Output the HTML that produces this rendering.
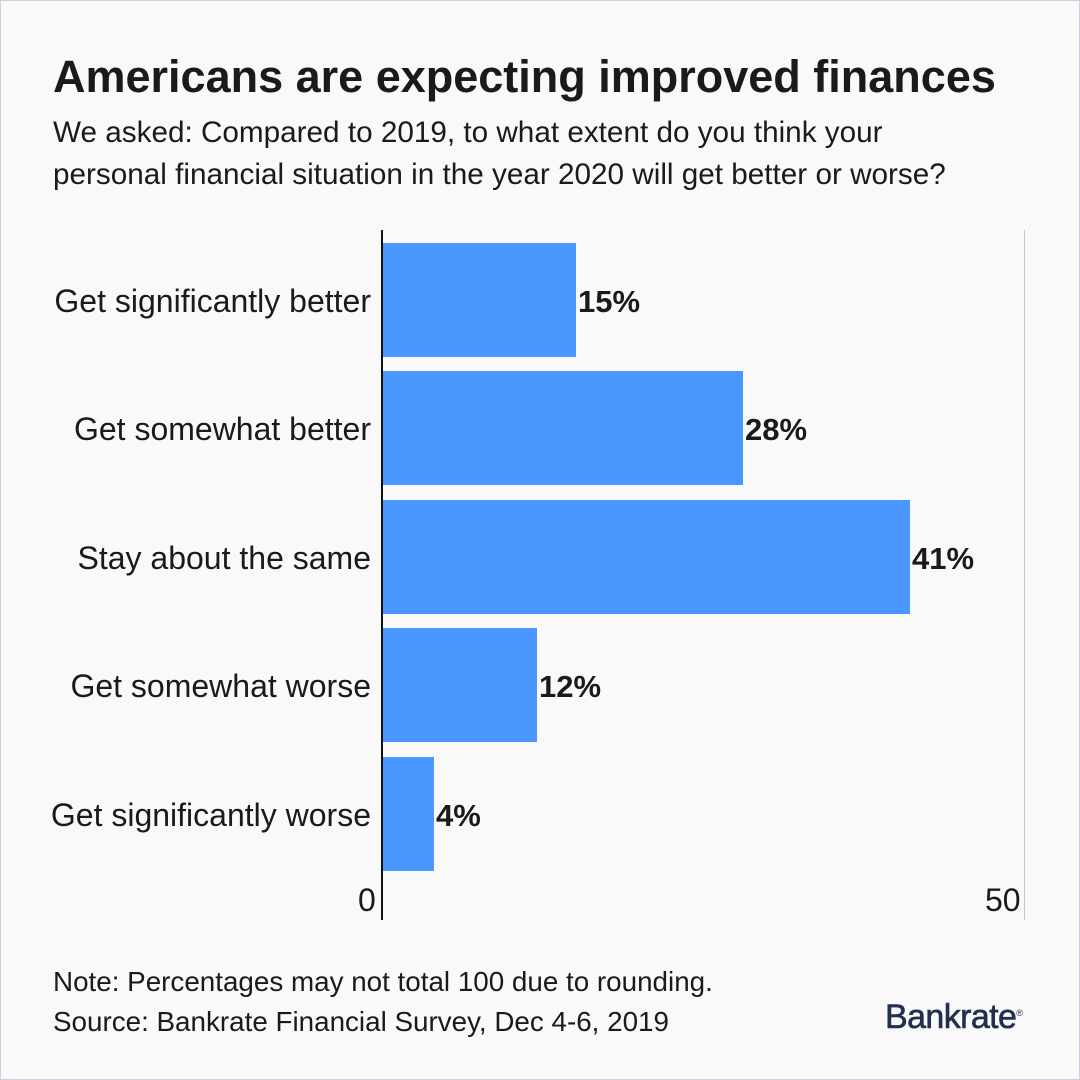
<!DOCTYPE html>
<html><head><meta charset="utf-8"><style>
body{margin:0;}
.page{position:relative;width:1078px;height:1078px;background:#f9f9f9;border:1px solid #cfcfdc;font-family:"Liberation Sans",sans-serif;color:#1a1a1a;overflow:hidden;}
.t{position:absolute;white-space:nowrap;}
.bar{position:absolute;left:382px;background:#4a98ff;height:114px;}
.lab{position:absolute;right:708px;font-size:32px;white-space:nowrap;}
.val{position:absolute;font-size:31px;font-weight:bold;}
</style></head><body><div class="page">
<div class="t" style="left:52px;top:50px;font-size:45px;font-weight:bold;">Americans are expecting improved finances</div>
<div class="t" style="left:52px;top:111px;font-size:29.7px;line-height:42px;">We asked: Compared to 2019, to what extent do you think your<br>personal financial situation in the year 2020 will get better or worse?</div>
<div style="position:absolute;left:1023px;top:229px;width:1px;height:690px;background:#c8c8d4"></div>
<div class="bar" style="top:242px;width:193px"></div>
<div class="bar" style="top:370px;width:360px"></div>
<div class="bar" style="top:499px;width:527px"></div>
<div class="bar" style="top:627px;width:154px"></div>
<div class="bar" style="top:756px;width:51px"></div>
<div style="position:absolute;left:380px;top:229px;width:2px;height:690px;background:#111"></div>
<div class="lab" style="top:282px">Get significantly better</div>
<div class="lab" style="top:410px">Get somewhat better</div>
<div class="lab" style="top:539px">Stay about the same</div>
<div class="lab" style="top:667px">Get somewhat worse</div>
<div class="lab" style="top:796px">Get significantly worse</div>
<div class="val" style="left:577px;top:283px">15%</div>
<div class="val" style="left:744px;top:411px">28%</div>
<div class="val" style="left:911px;top:540px">41%</div>
<div class="val" style="left:538px;top:668px">12%</div>
<div class="val" style="left:435px;top:797px">4%</div>
<div class="t" style="left:357px;top:881px;font-size:32px">0</div>
<div class="t" style="left:984px;top:881px;font-size:32px">50</div>
<div class="t" style="left:52px;top:965px;font-size:27.8px">Note: Percentages may not total 100 due to rounding.</div>
<div class="t" style="left:52px;top:1005px;font-size:27.8px">Source: Bankrate Financial Survey, Dec 4-6, 2019</div>
<div class="t" style="left:884px;top:997px;font-size:34px;color:#23304d;letter-spacing:-0.6px;-webkit-text-stroke:0.6px #23304d">Bankrate<span style="font-size:9px;vertical-align:top;position:relative;top:10px;-webkit-text-stroke:0">®</span></div>
</div></body></html>
